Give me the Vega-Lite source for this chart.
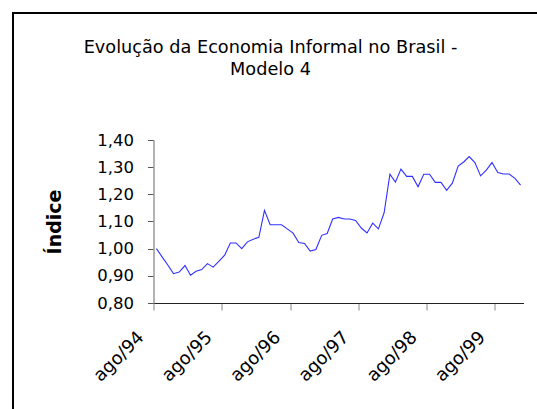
{
  "$schema": "https://vega.github.io/schema/vega-lite/v6.json",
  "autosize": {"type": "none"},
  "width": 370,
  "height": 163,
  "padding": {"left": 153.5, "top": 140, "right": 13.5, "bottom": 106},
  "background": "white",
  "title": {
    "text": ["Evolução da Economia Informal no Brasil -", "Modelo 4"],
    "font": "DejaVu Sans",
    "fontSize": 17.7,
    "fontWeight": "normal",
    "color": "black",
    "lineHeight": 22,
    "anchor": "middle",
    "baseline": "alphabetic",
    "dx": -68,
    "offset": -80
  },
  "data": {
    "values": [
      {"mes": "1994-08-01", "indice": 1.000},
      {"mes": "1994-09-01", "indice": 0.970},
      {"mes": "1994-10-01", "indice": 0.940},
      {"mes": "1994-11-01", "indice": 0.908},
      {"mes": "1994-12-01", "indice": 0.914},
      {"mes": "1995-01-01", "indice": 0.938},
      {"mes": "1995-02-01", "indice": 0.902},
      {"mes": "1995-03-01", "indice": 0.917},
      {"mes": "1995-04-01", "indice": 0.923},
      {"mes": "1995-05-01", "indice": 0.945},
      {"mes": "1995-06-01", "indice": 0.932},
      {"mes": "1995-07-01", "indice": 0.953},
      {"mes": "1995-08-01", "indice": 0.976},
      {"mes": "1995-09-01", "indice": 1.021},
      {"mes": "1995-10-01", "indice": 1.021},
      {"mes": "1995-11-01", "indice": 1.000},
      {"mes": "1995-12-01", "indice": 1.025},
      {"mes": "1996-01-01", "indice": 1.035},
      {"mes": "1996-02-01", "indice": 1.042},
      {"mes": "1996-03-01", "indice": 1.141},
      {"mes": "1996-04-01", "indice": 1.088},
      {"mes": "1996-05-01", "indice": 1.088},
      {"mes": "1996-06-01", "indice": 1.088},
      {"mes": "1996-07-01", "indice": 1.073},
      {"mes": "1996-08-01", "indice": 1.057},
      {"mes": "1996-09-01", "indice": 1.023},
      {"mes": "1996-10-01", "indice": 1.019},
      {"mes": "1996-11-01", "indice": 0.991},
      {"mes": "1996-12-01", "indice": 0.997},
      {"mes": "1997-01-01", "indice": 1.049},
      {"mes": "1997-02-01", "indice": 1.056},
      {"mes": "1997-03-01", "indice": 1.109},
      {"mes": "1997-04-01", "indice": 1.115},
      {"mes": "1997-05-01", "indice": 1.109},
      {"mes": "1997-06-01", "indice": 1.109},
      {"mes": "1997-07-01", "indice": 1.104},
      {"mes": "1997-08-01", "indice": 1.076},
      {"mes": "1997-09-01", "indice": 1.058},
      {"mes": "1997-10-01", "indice": 1.094},
      {"mes": "1997-11-01", "indice": 1.073},
      {"mes": "1997-12-01", "indice": 1.132},
      {"mes": "1998-01-01", "indice": 1.274},
      {"mes": "1998-02-01", "indice": 1.245},
      {"mes": "1998-03-01", "indice": 1.293},
      {"mes": "1998-04-01", "indice": 1.266},
      {"mes": "1998-05-01", "indice": 1.266},
      {"mes": "1998-06-01", "indice": 1.228},
      {"mes": "1998-07-01", "indice": 1.274},
      {"mes": "1998-08-01", "indice": 1.274},
      {"mes": "1998-09-01", "indice": 1.244},
      {"mes": "1998-10-01", "indice": 1.244},
      {"mes": "1998-11-01", "indice": 1.215},
      {"mes": "1998-12-01", "indice": 1.241},
      {"mes": "1999-01-01", "indice": 1.304},
      {"mes": "1999-02-01", "indice": 1.319},
      {"mes": "1999-03-01", "indice": 1.339},
      {"mes": "1999-04-01", "indice": 1.317},
      {"mes": "1999-05-01", "indice": 1.268},
      {"mes": "1999-06-01", "indice": 1.289},
      {"mes": "1999-07-01", "indice": 1.317},
      {"mes": "1999-08-01", "indice": 1.280},
      {"mes": "1999-09-01", "indice": 1.275},
      {"mes": "1999-10-01", "indice": 1.275},
      {"mes": "1999-11-01", "indice": 1.259},
      {"mes": "1999-12-01", "indice": 1.234}
    ]
  },
  "layer": [
    {
      "mark": {"type": "line", "color": "#3030ff", "strokeWidth": 1.1},
      "encoding": {
        "x": {
          "field": "mes",
          "type": "temporal",
          "timeUnit": "utcyearmonth",
          "bandPosition": 0.5,
          "scale": {
            "type": "utc",
            "domain": [
              {"year": 1994, "month": 8, "date": 1, "utc": true},
              {"year": 2000, "month": 1, "date": 1, "utc": true}
            ]
          },
          "axis": {
            "title": null,
            "values": [
              {"year": 1994, "month": 8, "date": 1, "utc": true},
              {"year": 1995, "month": 8, "date": 1, "utc": true},
              {"year": 1996, "month": 8, "date": 1, "utc": true},
              {"year": 1997, "month": 8, "date": 1, "utc": true},
              {"year": 1998, "month": 8, "date": 1, "utc": true},
              {"year": 1999, "month": 8, "date": 1, "utc": true}
            ],
            "labelExpr": "'ago/' + utcFormat(datum.value, '%y')",
            "labelAngle": -45,
            "labelFont": "DejaVu Sans",
            "labelFontSize": 18,
            "labelColor": "black",
            "labelPadding": 18,
            "labelOffset": -19,
            "labelOverlap": false,
            "labelFlush": false,
            "domainColor": "#222222",
            "domainWidth": 1,
            "tickColor": "#888888",
            "tickSize": 7,
            "grid": false
          }
        },
        "y": {
          "field": "indice",
          "type": "quantitative",
          "scale": {"domain": [0.8, 1.4], "nice": false, "zero": false},
          "axis": {
            "title": "Índice",
            "titleFont": "DejaVu Sans",
            "titleFontSize": 19,
            "titleFontWeight": "bold",
            "titleColor": "black",
            "titlePadding": 32,
            "values": [0.8, 0.9, 1.0, 1.1, 1.2, 1.3, 1.4],
            "tickCount": 7,
            "labelExpr": "replace(format(datum.value, '.2f'), '.', ',')",
            "labelFont": "DejaVu Sans",
            "labelFontSize": 16.5,
            "labelColor": "black",
            "labelPadding": 14,
            "labelOverlap": false,
            "labelFlush": false,
            "domainColor": "#9a9a9a",
            "domainWidth": 1.5,
            "tickColor": "#555555",
            "tickSize": 6,
            "grid": false
          }
        }
      }
    },
    {
      "mark": {"type": "rule", "color": "black", "strokeWidth": 1.5},
      "encoding": {
        "x": {"datum": {"year": 1992, "month": 7, "date": 10, "utc": true}, "type": "temporal"},
        "x2": {"datum": {"year": 2003, "month": 1, "date": 1, "utc": true}},
        "y": {
          "datum": 1.867,
          "type": "quantitative",
          "axis": {
            "title": "Índice",
            "values": [0.8, 0.9, 1.0, 1.1, 1.2, 1.3, 1.4],
            "tickCount": 7,
            "labelOverlap": false
          }
        }
      }
    },
    {
      "mark": {"type": "rule", "color": "black", "strokeWidth": 1.5},
      "encoding": {
        "x": {"datum": {"year": 1992, "month": 7, "date": 10, "utc": true}, "type": "temporal"},
        "y": {
          "datum": 1.867,
          "type": "quantitative",
          "axis": {
            "title": "Índice",
            "values": [0.8, 0.9, 1.0, 1.1, 1.2, 1.3, 1.4],
            "tickCount": 7,
            "labelOverlap": false
          }
        },
        "y2": {"datum": 0.3}
      }
    }
  ],
  "config": {
    "view": {"stroke": null},
    "axis": {"grid": false, "labelOverlap": false}
  }
}
